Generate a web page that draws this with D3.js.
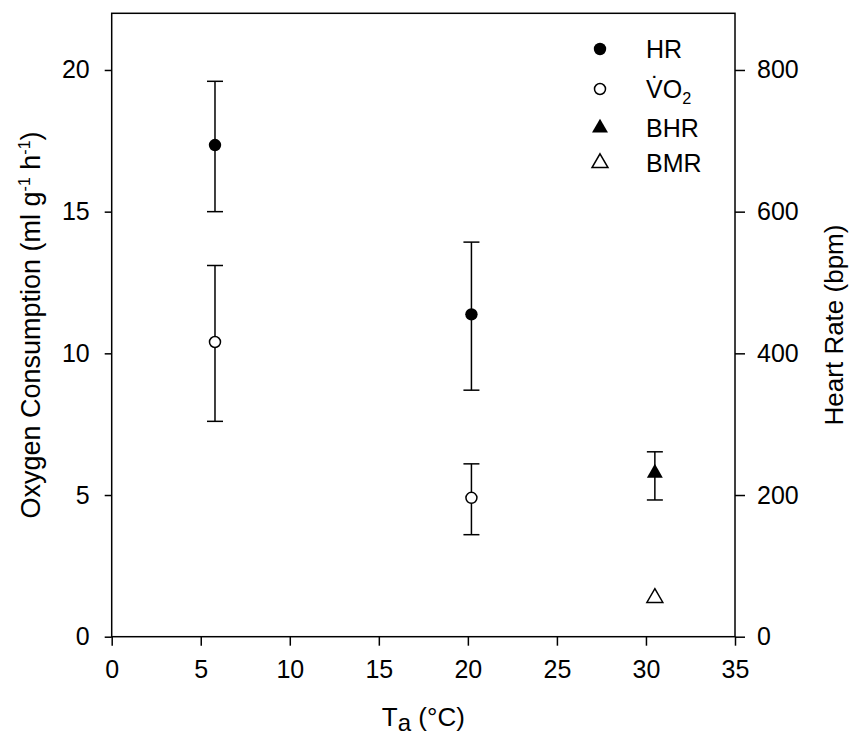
<!DOCTYPE html>
<html><head><meta charset="utf-8">
<script src="https://cdn.jsdelivr.net/npm/d3@7"></script>
<style>
body{margin:0;background:#fff}
text{font-family:Arial,"Liberation Sans",sans-serif;fill:#000}
</style>
</head><body>
<svg id="c" width="851" height="740"></svg>
<script>
// ---- data ----
const hrTemps = [5.8, 20.2];
const hrValues = [694, 455];
const hrLow = [600, 348];
const hrHigh = [784, 557];

const vo2Temps = [5.8, 20.2];
const vo2Values = [10.4, 4.9];
const vo2Low = [7.6, 3.6];
const vo2High = [13.1, 6.1];

const bhrTemps = [30.5];
const bhrValues = [231];
const bhrLow = [193];
const bhrHigh = [261];

const bmrTemps = [30.5];
const bmrValues = [1.37];

const xTicks = [0, 5, 10, 15, 20, 25, 30, 35];
const yLeftTicks = [0, 5, 10, 15, 20];
const yRightTicks = [0, 200, 400, 600, 800];

const legendLabels = ["HR", "VO2", "BHR", "BMR"];

// ---- layout ----
const L = 111.7, R = 735, T = 13.3, B = 636.7;
const svg = d3.select("#c");

const x = d3.scaleLinear().domain([0, 35]).range([L, R]);
const yL = d3.scaleLinear().domain([0, 22]).range([B, T]);
const yR = d3.scaleLinear().domain([0, 880]).range([B, T]);

const fs = 25;

// axes
const gx = svg.append("g").attr("transform", `translate(0,${B})`)
  .call(d3.axisBottom(x).tickValues(xTicks).tickSize(9).tickPadding(15).tickFormat(d3.format("d")));
const gl = svg.append("g").attr("transform", `translate(${L},0)`)
  .call(d3.axisLeft(yL).tickValues(yLeftTicks).tickSize(7).tickPadding(15).tickFormat(d3.format("d")));
const gr = svg.append("g").attr("transform", `translate(${R},0)`)
  .call(d3.axisRight(yR).tickValues(yRightTicks).tickSize(10).tickPadding(12).tickFormat(d3.format("d")));
[gx, gl, gr].forEach(g => {
  g.select(".domain").remove();
  g.selectAll(".tick line").attr("stroke", "#000").attr("stroke-width", 1.5);
  g.selectAll(".tick text").attr("font-size", fs).attr("font-family", "Arial, 'Liberation Sans', sans-serif").attr("fill", "#000");
});

// frame
svg.append("rect").attr("x", L).attr("y", T).attr("width", R - L).attr("height", B - T)
  .attr("fill", "none").attr("stroke", "#000").attr("stroke-width", 1.5);

// error bars
function errBars(xs, lows, highs, yScale) {
  const g = svg.append("g").attr("stroke", "#000").attr("stroke-width", 1.5);
  xs.forEach((t, i) => {
    const cx = x(t);
    g.append("line").attr("x1", cx).attr("x2", cx).attr("y1", yScale(lows[i])).attr("y2", yScale(highs[i]));
    [lows[i], highs[i]].forEach(v => {
      g.append("line").attr("x1", cx - 8).attr("x2", cx + 8).attr("y1", yScale(v)).attr("y2", yScale(v));
    });
  });
}
errBars(hrTemps, hrLow, hrHigh, yR);
errBars(vo2Temps, vo2Low, vo2High, yL);
errBars(bhrTemps, bhrLow, bhrHigh, yR);

const tri = d3.symbol().type(d3.symbolTriangle).size(110);

// points
svg.append("g").selectAll("circle").data(hrTemps).join("circle")
  .attr("cx", d => x(d)).attr("cy", (d, i) => yR(hrValues[i])).attr("r", 6.2).attr("fill", "#000");
svg.append("g").selectAll("circle").data(vo2Temps).join("circle")
  .attr("cx", d => x(d)).attr("cy", (d, i) => yL(vo2Values[i])).attr("r", 5.5)
  .attr("fill", "#fff").attr("stroke", "#000").attr("stroke-width", 1.5);
svg.append("g").selectAll("path").data(bhrTemps).join("path")
  .attr("transform", (d, i) => `translate(${x(d)},${yR(bhrValues[i])})`).attr("d", tri).attr("fill", "#000");
svg.append("g").selectAll("path").data(bmrTemps).join("path")
  .attr("transform", (d, i) => `translate(${x(d)},${yL(bmrValues[i])})`).attr("d", tri)
  .attr("fill", "#fff").attr("stroke", "#000").attr("stroke-width", 1.5);

// legend
const legY = [49, 89, 128, 163];
const mx = 600, tx = 646;
const lg = svg.append("g");
lg.append("circle").attr("cx", mx).attr("cy", legY[0]).attr("r", 6.2).attr("fill", "#000");
lg.append("circle").attr("cx", mx).attr("cy", legY[1]).attr("r", 5.5).attr("fill", "#fff").attr("stroke", "#000").attr("stroke-width", 1.5);
lg.append("path").attr("transform", `translate(${mx},${legY[2]})`).attr("d", tri).attr("fill", "#000");
lg.append("path").attr("transform", `translate(${mx},${legY[3]})`).attr("d", tri).attr("fill", "#fff").attr("stroke", "#000").attr("stroke-width", 1.5);
legendLabels.forEach((lab, i) => {
  const t = lg.append("text").attr("x", tx).attr("y", legY[i] + 9).attr("font-size", fs);
  if (lab === "VO2") {
    t.append("tspan").text("V\u0307O");
    t.append("tspan").attr("font-size", fs * 0.65).attr("dy", 6).text("2");
  } else t.text(lab);
});

// axis titles
const yt = svg.append("text").attr("transform", `translate(40,${(T + B) / 2}) rotate(-90)`)
  .attr("text-anchor", "middle").attr("font-size", 27);
yt.append("tspan").text("Oxygen Consumption (ml g");
yt.append("tspan").attr("font-size", 16).attr("dy", -10).text("-1");
yt.append("tspan").attr("dy", 10).text(" h");
yt.append("tspan").attr("font-size", 16).attr("dy", -10).text("-1");
yt.append("tspan").attr("dy", 10).text(")");

svg.append("text").attr("transform", `translate(843,${(T + B) / 2}) rotate(-90)`)
  .attr("text-anchor", "middle").attr("font-size", 26).text("Heart Rate (bpm)");

const xt = svg.append("text").attr("x", (L + R) / 2).attr("y", 726).attr("text-anchor", "middle").attr("font-size", 26);
xt.append("tspan").text("T");
xt.append("tspan").attr("dy", 5).attr("font-size", 24).text("a");
xt.append("tspan").attr("dy", -5).text(" (°C)");
</script>
</body></html>
